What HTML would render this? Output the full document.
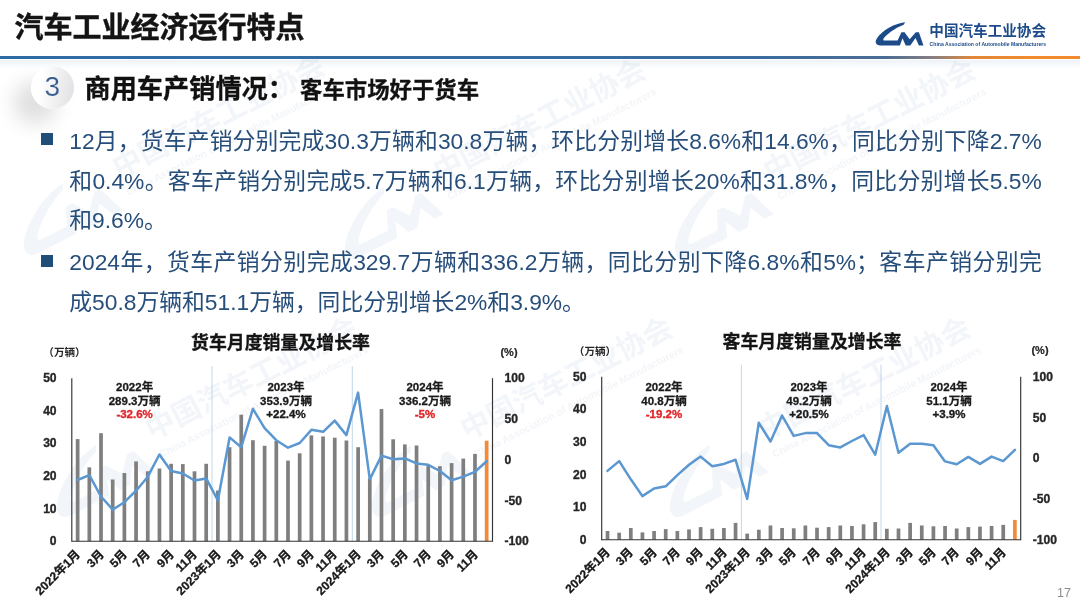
<!DOCTYPE html>
<html lang="zh-CN">
<head>
<meta charset="utf-8">
<title>汽车工业经济运行特点</title>
<style>
html,body{margin:0;padding:0;}
body{width:1080px;height:608px;position:relative;overflow:hidden;background:#fff;font-family:"Liberation Sans","Noto Sans CJK SC",sans-serif;}
.abs{position:absolute;white-space:nowrap;}
.t{position:absolute;white-space:nowrap;line-height:1;font-family:"Liberation Sans","Noto Sans CJK SC",sans-serif;}
.k{color:#1a1a1a;-webkit-text-stroke:0.3px #1a1a1a;}
#rule{left:0;top:56.2px;width:1080px;height:3.3px;background:linear-gradient(90deg,#2e6ca6 0%,#3a6c9f 70%,#4b6d94 82%,#8a7f80 86.5%,#e0873a 90%,#f08a2c 95%,#f08a2c 100%);}
#rule2{left:0;top:59.5px;width:1080px;height:9px;background:linear-gradient(180deg,rgba(90,140,190,0.10),rgba(90,140,190,0));}
#num{left:30.8px;top:66px;width:43px;height:43px;border-radius:50%;background:linear-gradient(100deg,#ffffff 25%,#dfdfe2 100%);box-shadow:-17px 15px 20px rgba(0,0,0,0.13);}
#numt{left:30.8px;top:66px;width:43px;height:43px;line-height:42.6px;text-align:center;font-size:28px;color:#345c8e;-webkit-text-stroke:0.2px #f3f3f5;paint-order:fill stroke;}
.sq{position:absolute;left:41px;width:12px;height:12px;background:#1f4e79;}
#pg{left:1057px;top:585.5px;font-size:12.5px;color:#8c8c8c;}
svg text{font-family:"Liberation Sans","Noto Sans CJK SC",sans-serif;}
.ax{font-size:12.1px;font-weight:bold;fill:#262626;stroke:#262626;stroke-width:0.35px;}
.un{font-size:11px;font-weight:bold;fill:#262626;stroke:#262626;stroke-width:0.2px;}
.an{font-size:11.5px;font-weight:bold;fill:#1a1a1a;stroke:#1a1a1a;stroke-width:0.35px;}
.rd{fill:#e0262c;stroke:#e0262c;}
#lg2{left:929.5px;top:40.5px;font-size:5.4px;line-height:8px;font-weight:bold;color:#1d4b8a;letter-spacing:0.05px;}
</style>
</head>
<body>
<svg class="abs" style="left:0;top:0" width="1080" height="608" viewBox="0 0 1080 608">
<defs><path id="logo" d="M35.1 7.2C27 8 19 12 12.5 17.2C8 21 5.2 25 5.8 27.6C6.2 29.6 8 30.5 10.4 30.5L29.9 30.5L32.5 23.3L35.7 30.5L40.3 30.5L45.5 23L48.9 30.5L53.5 30.5L48.9 17.3L45.8 17.3L39.7 24.2L34.5 17.3L31.4 17.3L27.6 25.6L14.5 25.6C13.2 25.6 13 24.6 13.6 23.5C16.3 19.8 24.3 13.3 33.7 9.8Z"/><g id="wm"><g transform="scale(2) translate(-936.6,-30.7)"><use href="#logo" transform="translate(864.8,17.6) scale(1.1)" fill="#1d4b8a"/><text x="929.3" y="36.2" font-size="14.6" font-weight="bold" fill="#1d4b8a">中国汽车工业协会</text><text x="929.6" y="46.2" font-size="5.2" font-weight="bold" fill="#1d4b8a" textLength="116.5" lengthAdjust="spacingAndGlyphs">China Association of Automobile Manufacturers</text></g></g></defs>
<g opacity="0.056">
<use href="#wm" transform="translate(127,162) rotate(-27)"/><use href="#wm" transform="translate(448,166) rotate(-27)"/><use href="#wm" transform="translate(778,166) rotate(-27)"/><use href="#wm" transform="translate(160,424) rotate(-27)"/><use href="#wm" transform="translate(475,424) rotate(-27)"/><use href="#wm" transform="translate(773,424) rotate(-27)"/>
</g>
</svg>
<div class="abs" id="rule"></div>
<div class="abs" id="rule2"></div>
<div class="abs" id="num"></div>
<div class="abs" id="numt">3</div>
<div class="sq" style="top:133px"></div>
<div class="sq" style="top:255px"></div>
<div class="t" style="left:14.5px;top:13.9px;font-size:29px;font-weight:bold;color:#141414;-webkit-text-stroke:0.4px #141414;">汽车工业经济运行特点</div>
<div class="t" style="left:929.3px;top:23.8px;font-size:14.6px;font-weight:bold;color:#1d4b8a;">中国汽车工业协会</div>
<div class="t" style="left:84.5px;top:76.3px;font-size:26.2px;font-weight:bold;color:#111;-webkit-text-stroke:0.3px #111;">商用车产销情况：</div>
<div class="t" style="left:300.0px;top:79.7px;font-size:22.4px;font-weight:bold;color:#111;-webkit-text-stroke:0.3px #111;">客车市场好于货车</div>
<div class="t" style="left:69.3px;top:130.4px;font-size:22.8px;width:972.5px;text-align-last:justify;color:#274e7a;">12月，货车产销分别完成30.3万辆和30.8万辆，环比分别增长8.6%和14.6%，同比分别下降2.7%</div>
<div class="t" style="left:69.3px;top:169.7px;font-size:22.8px;width:972.5px;text-align-last:justify;color:#274e7a;">和0.4%。客车产销分别完成5.7万辆和6.1万辆，环比分别增长20%和31.8%，同比分别增长5.5%</div>
<div class="t" style="left:69.3px;top:209.2px;font-size:22.8px;color:#274e7a;">和9.6%。</div>
<div class="t" style="left:69.3px;top:251.4px;font-size:22.8px;width:972.5px;text-align-last:justify;color:#274e7a;">2024年，货车产销分别完成329.7万辆和336.2万辆，同比分别下降6.8%和5%；客车产销分别完</div>
<div class="t" style="left:69.3px;top:290.7px;font-size:22.8px;width:507.0px;text-align-last:justify;color:#274e7a;">成50.8万辆和51.1万辆，同比分别增长2%和3.9%。</div>
<div class="t" style="left:64.5px;top:347.2px;font-size:10.6px;font-weight:bold;color:#262626;transform:translateX(-50%);transform-origin:50% 85%;">（万辆）</div>
<div class="t" style="left:280.5px;top:334.6px;font-size:17.9px;font-weight:bold;color:#141414;-webkit-text-stroke:0.3px #141414;transform:translateX(-50%);transform-origin:50% 85%;">货车月度销量及增长率</div>
<div class="t k" style="left:134.6px;top:382.0px;font-size:11.5px;font-weight:bold;transform:translateX(-50%);transform-origin:50% 85%;">2022年</div>
<div class="t k" style="left:134.6px;top:395.6px;font-size:11.5px;font-weight:bold;transform:translateX(-50%);transform-origin:50% 85%;">289.3万辆</div>
<div class="t k" style="left:286.0px;top:382.0px;font-size:11.5px;font-weight:bold;transform:translateX(-50%);transform-origin:50% 85%;">2023年</div>
<div class="t k" style="left:286.0px;top:395.6px;font-size:11.5px;font-weight:bold;transform:translateX(-50%);transform-origin:50% 85%;">353.9万辆</div>
<div class="t k" style="left:425.0px;top:382.0px;font-size:11.5px;font-weight:bold;transform:translateX(-50%);transform-origin:50% 85%;">2024年</div>
<div class="t k" style="left:425.0px;top:395.6px;font-size:11.5px;font-weight:bold;transform:translateX(-50%);transform-origin:50% 85%;">336.2万辆</div>
<div class="t k" style="left:81.2px;top:544.5px;font-size:12px;font-weight:bold;transform:translateX(-100%) rotate(-45deg);transform-origin:100% 85%;">2022年1月</div>
<div class="t k" style="left:104.6px;top:544.5px;font-size:12px;font-weight:bold;transform:translateX(-100%) rotate(-45deg);transform-origin:100% 85%;">3月</div>
<div class="t k" style="left:128.0px;top:544.5px;font-size:12px;font-weight:bold;transform:translateX(-100%) rotate(-45deg);transform-origin:100% 85%;">5月</div>
<div class="t k" style="left:151.4px;top:544.5px;font-size:12px;font-weight:bold;transform:translateX(-100%) rotate(-45deg);transform-origin:100% 85%;">7月</div>
<div class="t k" style="left:174.7px;top:544.5px;font-size:12px;font-weight:bold;transform:translateX(-100%) rotate(-45deg);transform-origin:100% 85%;">9月</div>
<div class="t k" style="left:198.1px;top:544.5px;font-size:12px;font-weight:bold;transform:translateX(-100%) rotate(-45deg);transform-origin:100% 85%;">11月</div>
<div class="t k" style="left:221.5px;top:544.5px;font-size:12px;font-weight:bold;transform:translateX(-100%) rotate(-45deg);transform-origin:100% 85%;">2023年1月</div>
<div class="t k" style="left:244.8px;top:544.5px;font-size:12px;font-weight:bold;transform:translateX(-100%) rotate(-45deg);transform-origin:100% 85%;">3月</div>
<div class="t k" style="left:268.2px;top:544.5px;font-size:12px;font-weight:bold;transform:translateX(-100%) rotate(-45deg);transform-origin:100% 85%;">5月</div>
<div class="t k" style="left:291.6px;top:544.5px;font-size:12px;font-weight:bold;transform:translateX(-100%) rotate(-45deg);transform-origin:100% 85%;">7月</div>
<div class="t k" style="left:315.0px;top:544.5px;font-size:12px;font-weight:bold;transform:translateX(-100%) rotate(-45deg);transform-origin:100% 85%;">9月</div>
<div class="t k" style="left:338.3px;top:544.5px;font-size:12px;font-weight:bold;transform:translateX(-100%) rotate(-45deg);transform-origin:100% 85%;">11月</div>
<div class="t k" style="left:361.7px;top:544.5px;font-size:12px;font-weight:bold;transform:translateX(-100%) rotate(-45deg);transform-origin:100% 85%;">2024年1月</div>
<div class="t k" style="left:385.1px;top:544.5px;font-size:12px;font-weight:bold;transform:translateX(-100%) rotate(-45deg);transform-origin:100% 85%;">3月</div>
<div class="t k" style="left:408.5px;top:544.5px;font-size:12px;font-weight:bold;transform:translateX(-100%) rotate(-45deg);transform-origin:100% 85%;">5月</div>
<div class="t k" style="left:431.8px;top:544.5px;font-size:12px;font-weight:bold;transform:translateX(-100%) rotate(-45deg);transform-origin:100% 85%;">7月</div>
<div class="t k" style="left:455.2px;top:544.5px;font-size:12px;font-weight:bold;transform:translateX(-100%) rotate(-45deg);transform-origin:100% 85%;">9月</div>
<div class="t k" style="left:478.6px;top:544.5px;font-size:12px;font-weight:bold;transform:translateX(-100%) rotate(-45deg);transform-origin:100% 85%;">11月</div>
<div class="t" style="left:595.0px;top:345.7px;font-size:10.6px;font-weight:bold;color:#262626;transform:translateX(-50%);transform-origin:50% 85%;">（万辆）</div>
<div class="t" style="left:812.0px;top:333.6px;font-size:17.9px;font-weight:bold;color:#141414;-webkit-text-stroke:0.3px #141414;transform:translateX(-50%);transform-origin:50% 85%;">客车月度销量及增长率</div>
<div class="t k" style="left:664.0px;top:382.0px;font-size:11.5px;font-weight:bold;transform:translateX(-50%);transform-origin:50% 85%;">2022年</div>
<div class="t k" style="left:664.0px;top:395.6px;font-size:11.5px;font-weight:bold;transform:translateX(-50%);transform-origin:50% 85%;">40.8万辆</div>
<div class="t k" style="left:809.0px;top:382.0px;font-size:11.5px;font-weight:bold;transform:translateX(-50%);transform-origin:50% 85%;">2023年</div>
<div class="t k" style="left:809.0px;top:395.6px;font-size:11.5px;font-weight:bold;transform:translateX(-50%);transform-origin:50% 85%;">49.2万辆</div>
<div class="t k" style="left:949.0px;top:382.0px;font-size:11.5px;font-weight:bold;transform:translateX(-50%);transform-origin:50% 85%;">2024年</div>
<div class="t k" style="left:949.0px;top:395.6px;font-size:11.5px;font-weight:bold;transform:translateX(-50%);transform-origin:50% 85%;">51.1万辆</div>
<div class="t k" style="left:611.1px;top:543.0px;font-size:12px;font-weight:bold;transform:translateX(-100%) rotate(-45deg);transform-origin:100% 85%;">2022年1月</div>
<div class="t k" style="left:634.4px;top:543.0px;font-size:12px;font-weight:bold;transform:translateX(-100%) rotate(-45deg);transform-origin:100% 85%;">3月</div>
<div class="t k" style="left:657.7px;top:543.0px;font-size:12px;font-weight:bold;transform:translateX(-100%) rotate(-45deg);transform-origin:100% 85%;">5月</div>
<div class="t k" style="left:681.0px;top:543.0px;font-size:12px;font-weight:bold;transform:translateX(-100%) rotate(-45deg);transform-origin:100% 85%;">7月</div>
<div class="t k" style="left:704.2px;top:543.0px;font-size:12px;font-weight:bold;transform:translateX(-100%) rotate(-45deg);transform-origin:100% 85%;">9月</div>
<div class="t k" style="left:727.5px;top:543.0px;font-size:12px;font-weight:bold;transform:translateX(-100%) rotate(-45deg);transform-origin:100% 85%;">11月</div>
<div class="t k" style="left:750.8px;top:543.0px;font-size:12px;font-weight:bold;transform:translateX(-100%) rotate(-45deg);transform-origin:100% 85%;">2023年1月</div>
<div class="t k" style="left:774.1px;top:543.0px;font-size:12px;font-weight:bold;transform:translateX(-100%) rotate(-45deg);transform-origin:100% 85%;">3月</div>
<div class="t k" style="left:797.3px;top:543.0px;font-size:12px;font-weight:bold;transform:translateX(-100%) rotate(-45deg);transform-origin:100% 85%;">5月</div>
<div class="t k" style="left:820.6px;top:543.0px;font-size:12px;font-weight:bold;transform:translateX(-100%) rotate(-45deg);transform-origin:100% 85%;">7月</div>
<div class="t k" style="left:843.9px;top:543.0px;font-size:12px;font-weight:bold;transform:translateX(-100%) rotate(-45deg);transform-origin:100% 85%;">9月</div>
<div class="t k" style="left:867.2px;top:543.0px;font-size:12px;font-weight:bold;transform:translateX(-100%) rotate(-45deg);transform-origin:100% 85%;">11月</div>
<div class="t k" style="left:890.5px;top:543.0px;font-size:12px;font-weight:bold;transform:translateX(-100%) rotate(-45deg);transform-origin:100% 85%;">2024年1月</div>
<div class="t k" style="left:913.7px;top:543.0px;font-size:12px;font-weight:bold;transform:translateX(-100%) rotate(-45deg);transform-origin:100% 85%;">3月</div>
<div class="t k" style="left:937.0px;top:543.0px;font-size:12px;font-weight:bold;transform:translateX(-100%) rotate(-45deg);transform-origin:100% 85%;">5月</div>
<div class="t k" style="left:960.3px;top:543.0px;font-size:12px;font-weight:bold;transform:translateX(-100%) rotate(-45deg);transform-origin:100% 85%;">7月</div>
<div class="t k" style="left:983.6px;top:543.0px;font-size:12px;font-weight:bold;transform:translateX(-100%) rotate(-45deg);transform-origin:100% 85%;">9月</div>
<div class="t k" style="left:1006.8px;top:543.0px;font-size:12px;font-weight:bold;transform:translateX(-100%) rotate(-45deg);transform-origin:100% 85%;">11月</div>
<svg class="abs" style="left:0;top:0" width="1080" height="608" viewBox="0 0 1080 608">
<use href="#logo" transform="translate(870,15)" fill="#1d4b8a"/>
<text x="929.6" y="46.2" font-size="5.2" font-weight="bold" fill="#1d4b8a" textLength="116.5" lengthAdjust="spacingAndGlyphs">China Association of Automobile Manufacturers</text>
<line x1="212.0" y1="366.2" x2="212.0" y2="541.2" stroke="#c0d7eb" stroke-width="1"/>
<line x1="352.3" y1="366.2" x2="352.3" y2="541.2" stroke="#c0d7eb" stroke-width="1"/>
<rect x="75.79" y="439.1" width="3.7" height="102.1" fill="#7f7f7f"/>
<rect x="87.48" y="467.4" width="3.7" height="73.8" fill="#7f7f7f"/>
<rect x="99.17" y="433.2" width="3.7" height="108.0" fill="#7f7f7f"/>
<rect x="110.85" y="479.5" width="3.7" height="61.7" fill="#7f7f7f"/>
<rect x="122.54" y="473.0" width="3.7" height="68.2" fill="#7f7f7f"/>
<rect x="134.22" y="461.4" width="3.7" height="79.8" fill="#7f7f7f"/>
<rect x="145.91" y="471.3" width="3.7" height="69.9" fill="#7f7f7f"/>
<rect x="157.60" y="468.5" width="3.7" height="72.7" fill="#7f7f7f"/>
<rect x="169.28" y="463.8" width="3.7" height="77.5" fill="#7f7f7f"/>
<rect x="180.97" y="464.1" width="3.7" height="77.1" fill="#7f7f7f"/>
<rect x="192.65" y="471.3" width="3.7" height="69.9" fill="#7f7f7f"/>
<rect x="204.34" y="463.8" width="3.7" height="77.5" fill="#7f7f7f"/>
<rect x="216.03" y="490.5" width="3.7" height="50.7" fill="#7f7f7f"/>
<rect x="227.71" y="447.2" width="3.7" height="94.0" fill="#7f7f7f"/>
<rect x="239.40" y="414.7" width="3.7" height="126.5" fill="#7f7f7f"/>
<rect x="251.08" y="440.2" width="3.7" height="101.0" fill="#7f7f7f"/>
<rect x="262.77" y="445.8" width="3.7" height="95.4" fill="#7f7f7f"/>
<rect x="274.46" y="441.0" width="3.7" height="100.2" fill="#7f7f7f"/>
<rect x="286.14" y="460.6" width="3.7" height="80.6" fill="#7f7f7f"/>
<rect x="297.83" y="453.3" width="3.7" height="87.9" fill="#7f7f7f"/>
<rect x="309.52" y="435.4" width="3.7" height="105.8" fill="#7f7f7f"/>
<rect x="321.20" y="436.5" width="3.7" height="104.7" fill="#7f7f7f"/>
<rect x="332.89" y="437.7" width="3.7" height="103.5" fill="#7f7f7f"/>
<rect x="344.57" y="440.5" width="3.7" height="100.7" fill="#7f7f7f"/>
<rect x="356.26" y="447.2" width="3.7" height="94.0" fill="#7f7f7f"/>
<rect x="367.95" y="478.5" width="3.7" height="62.7" fill="#7f7f7f"/>
<rect x="379.63" y="409.1" width="3.7" height="132.1" fill="#7f7f7f"/>
<rect x="391.32" y="439.3" width="3.7" height="101.9" fill="#7f7f7f"/>
<rect x="403.00" y="444.4" width="3.7" height="96.8" fill="#7f7f7f"/>
<rect x="414.69" y="445.5" width="3.7" height="95.7" fill="#7f7f7f"/>
<rect x="426.38" y="465.4" width="3.7" height="75.8" fill="#7f7f7f"/>
<rect x="438.06" y="466.2" width="3.7" height="75.0" fill="#7f7f7f"/>
<rect x="449.75" y="463.1" width="3.7" height="78.1" fill="#7f7f7f"/>
<rect x="461.43" y="458.6" width="3.7" height="82.6" fill="#7f7f7f"/>
<rect x="473.12" y="453.9" width="3.7" height="87.3" fill="#7f7f7f"/>
<rect x="484.81" y="440.7" width="3.7" height="100.5" fill="#f08a3c"/>
<line x1="71.8" y1="378.2" x2="71.8" y2="541.7" stroke="#333" stroke-width="1.15"/>
<line x1="492.5" y1="378.2" x2="492.5" y2="541.7" stroke="#333" stroke-width="1.15"/>
<line x1="71.8" y1="541.2" x2="492.5" y2="541.2" stroke="#333" stroke-width="1.15"/>
<polyline points="77.6,480.0 89.3,475.1 101.0,496.5 112.7,509.6 124.4,502.2 136.1,490.7 147.8,476.7 159.4,454.5 171.1,471.0 182.8,473.5 194.5,480.5 206.2,478.4 217.9,500.3 229.6,437.4 241.2,447.2 252.9,408.8 264.6,428.1 276.3,440.2 288.0,447.7 299.7,443.0 311.4,429.8 323.1,431.8 334.7,420.6 346.4,435.1 358.1,392.6 369.8,479.4 381.5,455.6 393.2,459.2 404.9,458.4 416.5,463.4 428.2,464.8 439.9,471.0 451.6,480.2 463.3,476.6 475.0,471.8 486.7,461.2" fill="none" stroke="#5b97d0" stroke-width="2.5" stroke-linejoin="round" stroke-linecap="round"/>
<text x="56.6" y="545.2" class="ax" text-anchor="end">0</text>
<text x="56.6" y="512.6" class="ax" text-anchor="end">10</text>
<text x="56.6" y="480.0" class="ax" text-anchor="end">20</text>
<text x="56.6" y="447.4" class="ax" text-anchor="end">30</text>
<text x="56.6" y="414.8" class="ax" text-anchor="end">40</text>
<text x="56.6" y="382.2" class="ax" text-anchor="end">50</text>
<text x="504.5" y="545.4" class="ax">-100</text>
<text x="504.5" y="504.7" class="ax">-50</text>
<text x="504.5" y="463.9" class="ax">0</text>
<text x="504.5" y="423.1" class="ax">50</text>
<text x="504.5" y="382.4" class="ax">100</text>
<text x="509.0" y="355.7" class="un" text-anchor="middle">(%)</text>
<text x="134.6" y="418.4" class="an rd" text-anchor="middle">-32.6%</text>
<text x="286" y="418.4" class="an" text-anchor="middle">+22.4%</text>
<text x="425" y="418.4" class="an rd" text-anchor="middle">-5%</text>
<line x1="741.4" y1="364.7" x2="741.4" y2="539.7" stroke="#c0d7eb" stroke-width="1"/>
<line x1="881.0" y1="364.7" x2="881.0" y2="539.7" stroke="#c0d7eb" stroke-width="1"/>
<rect x="605.67" y="531.0" width="3.7" height="8.7" fill="#7f7f7f"/>
<rect x="617.31" y="532.7" width="3.7" height="7.0" fill="#7f7f7f"/>
<rect x="628.95" y="528.0" width="3.7" height="11.7" fill="#7f7f7f"/>
<rect x="640.59" y="532.4" width="3.7" height="7.3" fill="#7f7f7f"/>
<rect x="652.23" y="531.0" width="3.7" height="8.7" fill="#7f7f7f"/>
<rect x="663.86" y="529.1" width="3.7" height="10.6" fill="#7f7f7f"/>
<rect x="675.50" y="531.0" width="3.7" height="8.7" fill="#7f7f7f"/>
<rect x="687.14" y="529.4" width="3.7" height="10.3" fill="#7f7f7f"/>
<rect x="698.78" y="527.1" width="3.7" height="12.6" fill="#7f7f7f"/>
<rect x="710.42" y="528.8" width="3.7" height="10.9" fill="#7f7f7f"/>
<rect x="722.06" y="528.0" width="3.7" height="11.7" fill="#7f7f7f"/>
<rect x="733.70" y="522.9" width="3.7" height="16.8" fill="#7f7f7f"/>
<rect x="745.34" y="533.6" width="3.7" height="6.1" fill="#7f7f7f"/>
<rect x="756.98" y="529.7" width="3.7" height="10.0" fill="#7f7f7f"/>
<rect x="768.61" y="525.5" width="3.7" height="14.2" fill="#7f7f7f"/>
<rect x="780.25" y="528.0" width="3.7" height="11.7" fill="#7f7f7f"/>
<rect x="791.89" y="528.3" width="3.7" height="11.4" fill="#7f7f7f"/>
<rect x="803.53" y="525.5" width="3.7" height="14.2" fill="#7f7f7f"/>
<rect x="815.17" y="527.7" width="3.7" height="12.0" fill="#7f7f7f"/>
<rect x="826.81" y="527.1" width="3.7" height="12.6" fill="#7f7f7f"/>
<rect x="838.45" y="525.5" width="3.7" height="14.2" fill="#7f7f7f"/>
<rect x="850.09" y="526.0" width="3.7" height="13.7" fill="#7f7f7f"/>
<rect x="861.73" y="524.3" width="3.7" height="15.4" fill="#7f7f7f"/>
<rect x="873.36" y="522.1" width="3.7" height="17.6" fill="#7f7f7f"/>
<rect x="885.00" y="528.8" width="3.7" height="10.9" fill="#7f7f7f"/>
<rect x="896.64" y="528.5" width="3.7" height="11.2" fill="#7f7f7f"/>
<rect x="908.28" y="522.9" width="3.7" height="16.8" fill="#7f7f7f"/>
<rect x="919.92" y="525.5" width="3.7" height="14.2" fill="#7f7f7f"/>
<rect x="931.56" y="526.3" width="3.7" height="13.4" fill="#7f7f7f"/>
<rect x="943.20" y="526.0" width="3.7" height="13.7" fill="#7f7f7f"/>
<rect x="954.84" y="528.5" width="3.7" height="11.2" fill="#7f7f7f"/>
<rect x="966.48" y="527.1" width="3.7" height="12.6" fill="#7f7f7f"/>
<rect x="978.11" y="526.6" width="3.7" height="13.1" fill="#7f7f7f"/>
<rect x="989.75" y="526.0" width="3.7" height="13.7" fill="#7f7f7f"/>
<rect x="1001.39" y="524.9" width="3.7" height="14.8" fill="#7f7f7f"/>
<rect x="1013.03" y="519.9" width="3.7" height="19.8" fill="#f08a3c"/>
<line x1="601.7" y1="376.7" x2="601.7" y2="540.2" stroke="#333" stroke-width="1.15"/>
<line x1="1020.7" y1="376.7" x2="1020.7" y2="540.2" stroke="#333" stroke-width="1.15"/>
<line x1="601.7" y1="539.7" x2="1020.7" y2="539.7" stroke="#333" stroke-width="1.15"/>
<polyline points="607.5,470.9 619.2,461.1 630.8,479.3 642.4,496.1 654.1,488.5 665.7,486.3 677.4,475.1 689.0,464.8 700.6,456.6 712.3,466.2 723.9,463.9 735.5,459.7 747.2,498.9 758.8,422.8 770.5,441.5 782.1,415.5 793.7,435.9 805.4,433.1 817.0,433.1 828.7,445.2 840.3,447.4 851.9,441.0 863.6,435.1 875.2,454.7 886.9,406.0 898.5,452.7 910.1,443.8 921.8,443.8 933.4,445.2 945.0,461.4 956.7,464.2 968.3,456.9 980.0,463.9 991.6,456.6 1003.2,461.1 1014.9,449.9" fill="none" stroke="#5b97d0" stroke-width="2.5" stroke-linejoin="round" stroke-linecap="round"/>
<text x="586.5" y="543.7" class="ax" text-anchor="end">0</text>
<text x="586.5" y="511.1" class="ax" text-anchor="end">10</text>
<text x="586.5" y="478.5" class="ax" text-anchor="end">20</text>
<text x="586.5" y="445.9" class="ax" text-anchor="end">30</text>
<text x="586.5" y="413.3" class="ax" text-anchor="end">40</text>
<text x="586.5" y="380.7" class="ax" text-anchor="end">50</text>
<text x="1032.7" y="543.9" class="ax">-100</text>
<text x="1032.7" y="503.2" class="ax">-50</text>
<text x="1032.7" y="462.4" class="ax">0</text>
<text x="1032.7" y="421.6" class="ax">50</text>
<text x="1032.7" y="380.9" class="ax">100</text>
<text x="1040.0" y="354.2" class="un" text-anchor="middle">(%)</text>
<text x="664" y="418.4" class="an rd" text-anchor="middle">-19.2%</text>
<text x="809" y="418.4" class="an" text-anchor="middle">+20.5%</text>
<text x="949" y="418.4" class="an" text-anchor="middle">+3.9%</text>
</svg>
<div class="abs" id="pg">17</div>
</body>
</html>
